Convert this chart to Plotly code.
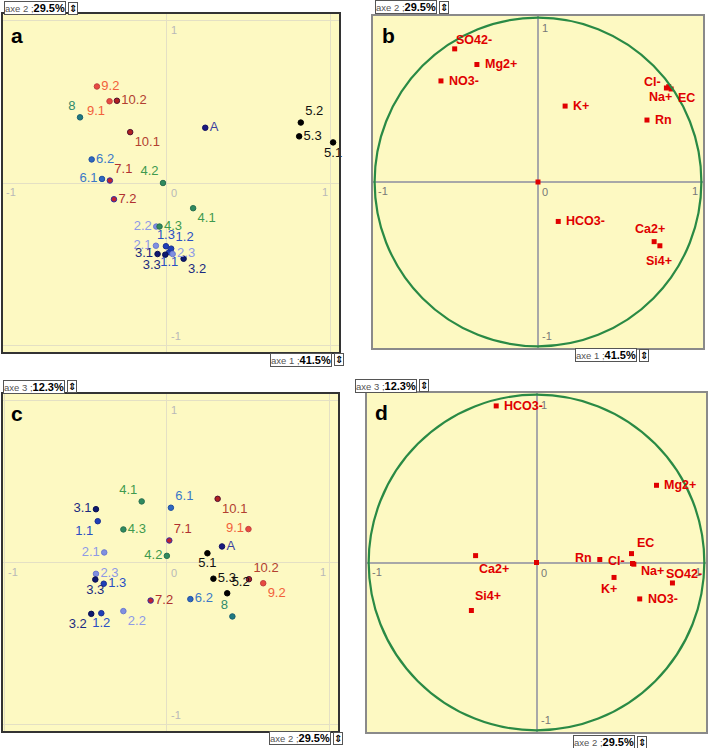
import plotly.graph_objects as go

# ---------------- data ----------------
obs_labels = ["1.1", "1.2", "1.3", "2.1", "2.2", "2.3", "3.1", "3.2", "3.3",
              "4.1", "4.2", "4.3", "5.1", "5.2", "5.3", "6.1", "6.2", "7.1",
              "7.2", "8", "9.1", "9.2", "10.1", "10.2", "A"]
obs_axe1 = [0.014, 0.026, -0.006, -0.067, -0.065, 0.035, -0.057, 0.102, -0.010,
            0.160, -0.024, -0.045, 1.014, 0.817, 0.807, -0.396, -0.459, -0.348,
            -0.323, -0.530, -0.350, -0.427, -0.224, -0.305, 0.234]
obs_axe2 = [-0.426, -0.404, -0.389, -0.386, -0.268, -0.437, -0.437, -0.466, -0.441,
            -0.155, 0.000, -0.268, 0.250, 0.372, 0.287, 0.025, 0.145, 0.015,
            -0.100, 0.404, 0.503, 0.594, 0.313, 0.506, 0.340]
obs_axe3 = [0.255, -0.313, -0.131, 0.062, -0.300, -0.070, 0.329, -0.317, -0.105,
            0.377, 0.041, 0.204, 0.057, -0.190, -0.100, 0.338, -0.226, 0.136,
            -0.235, -0.333, 0.206, -0.128, 0.393, -0.103, 0.099]

var_labels = ["SO42-", "Mg2+", "NO3-", "K+", "Cl-", "Na+", "EC", "Rn",
              "HCO3-", "Ca2+", "Si4+"]
var_axe1 = [-0.510, -0.374, -0.594, 0.166, 0.786, 0.800, 0.815, 0.667,
            0.124, 0.711, 0.746]
var_axe2 = [0.810, 0.715, 0.615, 0.462, 0.572, 0.580, 0.566, 0.377,
            -0.240, -0.363, -0.388]
var_axe3 = [-0.122, 0.460, -0.217, -0.089, -0.006, -0.010, 0.053, 0.018,
            0.933, 0.041, -0.286]
centre_point = [0.0]

axis_names = ["axe 1", "axe 2", "axe 3"]
axis_inertia = ["41.5%", "29.5%", "12.3%"]

# ---------------- styles ----------------
group_text = {"1": "#2a4fc4", "2": "#8e9ae6", "3": "#1b2a80", "4": "#3f9a4f",
              "5": "#111111", "6": "#3a78c8", "7": "#b03030", "8": "#2e8a6a",
              "9": "#f2603a", "10": "#b24030", "A": "#3b3fa0"}
group_fill = {"1": "#1f3fb8", "2": "#8090e0", "3": "#0d1a70", "4": "#2f8a5f",
              "5": "#000000", "6": "#2f68c0", "7": "#c02030", "8": "#1f7a80",
              "9": "#e84a40", "10": "#b02020", "A": "#1a1a80"}
group_edge = {"1": "#1a2f90", "2": "#6a7ad0", "3": "#0a1050", "4": "#2a7050",
              "5": "#000000", "6": "#2050a0", "7": "#3030a0", "8": "#1a6070",
              "9": "#c04040", "10": "#501030", "A": "#101060"}

pos_a = {"1.1": "bottom center", "1.2": "top right", "1.3": "top center",
         "2.1": "middle left", "2.2": "middle left", "2.3": "middle right",
         "3.1": "middle left", "3.2": "bottom right", "3.3": "bottom left",
         "4.1": "bottom right", "4.2": "top left", "4.3": "middle right",
         "5.1": "bottom center", "5.2": "top right", "5.3": "middle right",
         "6.1": "middle left", "6.2": "middle right", "7.1": "top right",
         "7.2": "middle right", "8": "top left", "9.1": "bottom left",
         "9.2": "middle right", "10.1": "bottom right", "10.2": "middle right",
         "A": "middle right"}
pos_c = {"1.1": "bottom left", "1.2": "bottom center", "1.3": "middle right",
         "2.1": "middle left", "2.2": "bottom right", "2.3": "middle right",
         "3.1": "middle left", "3.2": "bottom left", "3.3": "bottom center",
         "4.1": "top left", "4.2": "middle left", "4.3": "middle right",
         "5.1": "bottom center", "5.2": "top right", "5.3": "middle right",
         "6.1": "top right", "6.2": "middle right", "7.1": "top right",
         "7.2": "middle right", "8": "top left", "9.1": "middle left",
         "9.2": "bottom right", "10.1": "bottom right", "10.2": "top right",
         "A": "middle right"}
# variable-label offsets in pixels: (dx, dy-down, xanchor)
off_b = {"SO42-": (-1, -9, "left"), "Mg2+": (6, 0, "left"), "NO3-": (6, 0, "left"),
         "K+": (6, 0, "left"), "Cl-": (-3, -6, "right"), "Na+": (-8, 10, "center"),
         "EC": (5, 9, "left"), "Rn": (6, 0, "left"), "HCO3-": (6, 0, "left"),
         "Ca2+": (-4, -13, "center"), "Si4+": (-1, 15, "center")}
off_d = {"SO42-": (12, -9, "center"), "Mg2+": (6, 0, "left"), "NO3-": (6, 0, "left"),
         "K+": (-5, 12, "center"), "Cl-": (-5, -3, "right"), "Na+": (5, 7, "left"),
         "EC": (14, -11, "center"), "Rn": (-6, -1, "right"), "HCO3-": (6, 0, "left"),
         "Ca2+": (18, 13, "center"), "Si4+": (17, -15, "center")}

W, H = 709, 748
BG = "#fdf9c2"
FONT = "Liberation Sans, Arial, sans-serif"


def grp(lbl):
    return lbl.split(".")[0]


def px(x):
    return x / W


def py(y):
    return 1 - y / H


fig = go.Figure()

panels = {
    "a": dict(x=(3, 339), y=(14, 352), xr=[-1.0, 1.05], yr=[-1.04, 1.04]),
    "b": dict(x=(373, 703), y=(16, 348), xr=[-1.01, 1.01], yr=[-1.01, 1.01]),
    "c": dict(x=(3, 338), y=(394, 731), xr=[-1.01, 1.055], yr=[-1.04, 1.04]),
    "d": dict(x=(367, 706), y=(393, 732), xr=[-1.01, 1.01], yr=[-1.01, 1.01]),
}
ids = {"a": "", "b": "2", "c": "3", "d": "4"}

for key, xs, ys, pos in [("a", obs_axe1, obs_axe2, pos_a),
                         ("c", obs_axe2, obs_axe3, pos_c)]:
    fig.add_trace(go.Scatter(
        x=xs, y=ys, text=obs_labels, mode="markers+text",
        xaxis="x" + ids[key], yaxis="y" + ids[key],
        textposition=[pos[l] for l in obs_labels],
        textfont=dict(family=FONT, size=13,
                      color=[group_text[grp(l)] for l in obs_labels]),
        marker=dict(size=5.5, color=[group_fill[grp(l)] for l in obs_labels],
                    line=dict(width=1, color=[group_edge[grp(l)] for l in obs_labels])),
        cliponaxis=False, showlegend=False, hoverinfo="text"))

for key, xs, ys, off in [("b", var_axe1, var_axe2, off_b),
                         ("d", var_axe2, var_axe3, off_d)]:
    i = ids[key]
    fig.add_trace(go.Scatter(
        x=xs + centre_point, y=ys + centre_point, mode="markers",
        xaxis="x" + i, yaxis="y" + i,
        marker=dict(size=5, symbol="square", color="#e00000"),
        cliponaxis=False, showlegend=False, hoverinfo="skip"))
    for lbl, xv, yv in zip(var_labels, xs, ys):
        dx, dy, anc = off[lbl]
        fig.add_annotation(x=xv, y=yv, xref="x" + i, yref="y" + i, text="<b>%s</b>" % lbl,
                           showarrow=False, xanchor=anc, yanchor="middle",
                           xshift=dx, yshift=-dy,
                           font=dict(family=FONT, size=12.5, color="#e00000"))

layout = dict(width=W, height=H, margin=dict(l=0, r=0, t=0, b=0),
              paper_bgcolor="white", plot_bgcolor=BG,
              font=dict(family=FONT))
for key, p in panels.items():
    i = ids[key]
    circle_panel = key in ("b", "d")
    frame = "#8a8a8a" if circle_panel else "#333333"
    grid = "#a8a8a8" if circle_panel else "#e4e0c4"
    common = dict(showticklabels=False, ticks="", showline=True, mirror=True,
                  linecolor=frame, linewidth=2, zeroline=True,
                  zerolinecolor=grid, zerolinewidth=1.5 if circle_panel else 1,
                  showgrid=not circle_panel, gridcolor=grid,
                  tickvals=[-1, 0, 1], fixedrange=True)
    layout["xaxis" + i] = dict(domain=[px(p["x"][0]), px(p["x"][1])],
                               range=p["xr"], anchor="y" + i, **common)
    layout["yaxis" + i] = dict(domain=[py(p["y"][1]), py(p["y"][0])],
                               range=p["yr"], anchor="x" + i, **common)
fig.update_layout(**layout)

for key in ("b", "d"):
    i = ids[key]
    fig.add_shape(type="circle", xref="x" + i, yref="y" + i,
                  x0=-1, y0=-1, x1=1, y1=1,
                  line=dict(color="#2a8a45", width=2.2), layer="above")

for key in panels:
    i = ids[key]
    col = "#777777" if key in ("b", "d") else "#b8b8b8"
    f = dict(family=FONT, size=11, color=col)
    for (x, y, t, xa, ya, xs, ys) in [(-1, 0, "-1", "left", "top", 1, -1),
                                       (0, 0, "0", "left", "top", 2, -2),
                                       (1, 0, "1", "right", "top", -1, -1),
                                       (0, 1, "1", "left", "top", 2, -2),
                                       (0, -1, "-1", "left", "bottom", 2, 2)]:
        fig.add_annotation(x=x, y=y, xref="x" + i, yref="y" + i, text=t,
                           showarrow=False, xanchor=xa, yanchor=ya,
                           xshift=xs, yshift=ys, font=f)

for key, (lx, ly) in {"a": (9, 22), "b": (380, 22), "c": (9, 400), "d": (373, 399)}.items():
    fig.add_annotation(x=px(lx), y=py(ly), xref="paper", yref="paper",
                       text="<b>%s</b>" % key, showarrow=False,
                       xanchor="left", yanchor="top",
                       font=dict(family=FONT, size=21, color="black"))


def axis_box(idx, x_left, y_mid):
    fig.add_annotation(
        x=px(x_left), y=py(y_mid), xref="paper", yref="paper",
        text="<span style='color:#555;font-size:9.5px'>%s ;</span><b>%s</b>" % (axis_names[idx], axis_inertia[idx]),
        showarrow=False, xanchor="left", yanchor="middle",
        font=dict(family=FONT, size=11, color="black"),
        bordercolor="#555", borderwidth=1, borderpad=0, bgcolor="white")
    fig.add_annotation(
        x=px(x_left + 64), y=py(y_mid), xref="paper", yref="paper",
        text="<b>⇕</b>", showarrow=False, xanchor="left", yanchor="middle",
        font=dict(family="DejaVu Sans", size=10, color="black"),
        bordercolor="#555", borderwidth=1, borderpad=0, bgcolor="white")


axis_box(1, 4, 8.5)
axis_box(0, 270, 359.5)
axis_box(1, 375, 7.5)
axis_box(0, 575, 355)
axis_box(2, 3, 387)
axis_box(1, 269, 738)
axis_box(2, 355, 386)
axis_box(1, 573, 742)

fig.write_html("out.html",
               config={"displayModeBar": False},
               post_script="document.body.style.margin='0px';"
                           "document.body.style.overflow='hidden';")
